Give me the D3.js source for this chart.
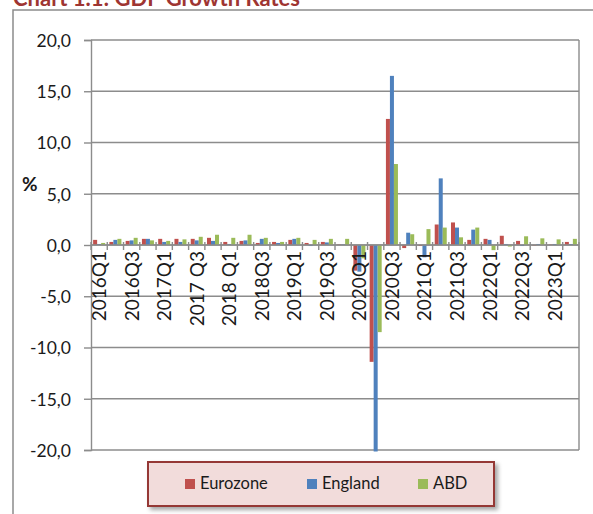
<!DOCTYPE html>
<html>
<head>
<meta charset="utf-8">
<script src="https://cdn.jsdelivr.net/npm/d3@7"></script>
<style>
  html, body { margin: 0; padding: 0; background: #fff; }
  svg { display: block; font-family: Lato, "Open Sans", sans-serif; }
</style>
</head>
<body>
<svg id="chart" width="593" height="514"></svg>
<script>
// Quarterly GDP growth (%, q/q)
const quarters = [
  "2016Q1","2016Q2","2016Q3","2016Q4",
  "2017Q1","2017Q2","2017 Q3","2017Q4",
  "2018 Q1","2018Q2","2018Q3","2018Q4",
  "2019Q1","2019Q2","2019Q3","2019Q4",
  "2020Q1","2020Q2","2020Q3","2020Q4",
  "2021Q1","2021Q2","2021Q3","2021Q4",
  "2022Q1","2022Q2","2022Q3","2022Q4",
  "2023Q1","2023Q2"
];
const seriesNames = ["Eurozone", "England", "ABD"];
const seriesColors = ["#C0504D", "#4F81BD", "#9BBB59"];

const eurozone = [0.5, 0.3, 0.4, 0.6, 0.6, 0.6, 0.6, 0.7, 0.3, 0.4, 0.2, 0.3, 0.5, 0.2, 0.3, 0.05,
                  -2.5, -11.4, 12.3, -0.3, -0.1, 2.0, 2.2, 0.5, 0.6, 0.9, 0.4, -0.05, 0.05, 0.3];
const england  = [0.1, 0.5, 0.45, 0.6, 0.3, 0.3, 0.45, 0.4, 0.1, 0.45, 0.6, 0.2, 0.6, -0.1, 0.25, 0.05,
                  -2.6, -20.4, 16.5, 1.2, -1.2, 6.5, 1.7, 1.5, 0.5, 0.1, -0.1, 0.1, 0.1, 0.1];
const abd      = [0.2, 0.6, 0.7, 0.45, 0.4, 0.55, 0.8, 1.0, 0.7, 1.0, 0.7, 0.3, 0.7, 0.5, 0.6, 0.6,
                  -1.3, -8.5, 7.9, 1.05, 1.55, 1.7, 0.75, 1.7, -0.5, -0.15, 0.85, 0.65, 0.55, 0.6];

const yTicks = [20, 15, 10, 5, 0, -5, -10, -15, -20];
const title = "Chart 1.1: GDP Growth Rates";

const values = [eurozone, england, abd];
const rows = quarters.map((q, i) => ({ q, vals: seriesNames.map((s, k) => ({ s, k, v: values[k][i] })) }));

const svg = d3.select("#chart");
const plot = { left: 91, right: 579, top: 40, bottom: 450 };
const gridColor = "#8c8c8c";
const fmt = v => d3.format(".1f")(v).replace(".", ",").replace("−", "-");

// outer chart frame
svg.append("path")
  .attr("d", `M13,514 V10 H593`)
  .attr("fill", "none").attr("stroke", gridColor).attr("stroke-width", 1.5);

// title (sits above the frame, partly beyond the top edge)
svg.append("text")
  .attr("x", 13).attr("y", 6)
  .attr("fill", "#9E3532").attr("font-weight", 700).attr("font-size", 22)
  .text(title);

const x0 = d3.scaleBand().domain(quarters).range([plot.left, plot.right]).paddingInner(0).paddingOuter(0);
const x1 = d3.scaleBand().domain(seriesNames).range([0, x0.bandwidth()]).paddingInner(0).paddingOuter(0.53);
const y = d3.scaleLinear().domain([-20, 20]).range([plot.bottom, plot.top]);

// horizontal gridlines
svg.append("g").selectAll("line").data(yTicks).join("line")
  .attr("x1", plot.left).attr("x2", plot.right)
  .attr("y1", d => y(d)).attr("y2", d => y(d))
  .attr("stroke", gridColor).attr("stroke-width", 1.4);

// right border of plot area
svg.append("line")
  .attr("x1", plot.right).attr("x2", plot.right).attr("y1", plot.top).attr("y2", plot.bottom)
  .attr("stroke", gridColor).attr("stroke-width", 1.4);

// y axis
const yAxis = svg.append("g").attr("transform", `translate(${plot.left},0)`)
  .call(d3.axisLeft(y).tickValues(yTicks).tickFormat(fmt).tickSize(7).tickPadding(13));
yAxis.select(".domain").attr("stroke", gridColor).attr("stroke-width", 1.4);
yAxis.selectAll(".tick line").attr("stroke", gridColor).attr("stroke-width", 1.4);
yAxis.selectAll(".tick text").attr("font-size", 17.5).attr("fill", "#1a1a1a")
  .attr("font-family", "Lato, sans-serif").attr("dy", "0.36em");

// axis title
svg.append("text").attr("x", 22).attr("y", 191)
  .attr("font-size", 19).attr("font-weight", 700).attr("fill", "#1a1a1a").text("%");

// bars
const clip = svg.append("defs").append("clipPath").attr("id", "plotClip");
clip.append("rect").attr("x", plot.left).attr("y", plot.top)
  .attr("width", plot.right - plot.left).attr("height", plot.bottom - plot.top + 1.5);

svg.append("g").attr("clip-path", "url(#plotClip)")
  .selectAll("g").data(rows).join("g")
  .attr("transform", d => `translate(${x0(d.q)},0)`)
  .selectAll("rect").data(d => d.vals).join("rect")
  .attr("x", d => x1(d.s))
  .attr("width", x1.bandwidth())
  .attr("y", d => y(Math.max(0, d.v)))
  .attr("height", d => Math.abs(y(d.v) - y(0)))
  .attr("fill", d => seriesColors[d.k]);

// category axis at zero with cross tick marks
const y0 = y(0);
svg.append("line")
  .attr("x1", plot.left).attr("x2", plot.right).attr("y1", y0).attr("y2", y0)
  .attr("stroke", gridColor).attr("stroke-width", 1.4);
const boundaries = quarters.map(q => x0(q)).concat([plot.right]);
svg.append("g").selectAll("line").data(boundaries).join("line")
  .attr("x1", d => d).attr("x2", d => d)
  .attr("y1", y0 - 3).attr("y2", y0 + 5)
  .attr("stroke", gridColor).attr("stroke-width", 1.4);

// category labels (every second quarter), rotated
svg.append("g").selectAll("text").data(quarters.filter((q, i) => i % 2 === 0)).join("text")
  .attr("transform", d => `translate(${x0(d) + x0.bandwidth() / 2 + 7},${y0 + 6}) rotate(-90)`)
  .attr("text-anchor", "end")
  .attr("font-size", 19).attr("fill", "#1a1a1a")
  .text(d => d);

// legend
const defs = svg.select("defs");
const f = defs.append("filter").attr("id", "shadow").attr("x", "-10%").attr("y", "-30%").attr("width", "130%").attr("height", "180%");
f.append("feDropShadow").attr("dx", 3).attr("dy", 3).attr("stdDeviation", 2)
  .attr("flood-color", "#000").attr("flood-opacity", 0.35);

const legend = svg.append("g");
legend.append("rect")
  .attr("x", 148).attr("y", 462).attr("width", 346).attr("height", 44)
  .attr("fill", "#F2DCDB").attr("stroke", "#953735").attr("stroke-width", 2)
  .attr("filter", "url(#shadow)");
const legendX = [185, 307, 418];
const items = legend.selectAll("g.item").data(seriesNames).join("g").attr("class", "item")
  .attr("transform", (d, i) => `translate(${legendX[i]},479)`);
items.append("rect").attr("width", 10).attr("height", 10)
  .attr("fill", (d, i) => seriesColors[i]);
items.append("text").attr("x", 15).attr("y", 10)
  .attr("font-size", 16.5).attr("fill", "#1a1a1a").text(d => d);
</script>
</body>
</html>
